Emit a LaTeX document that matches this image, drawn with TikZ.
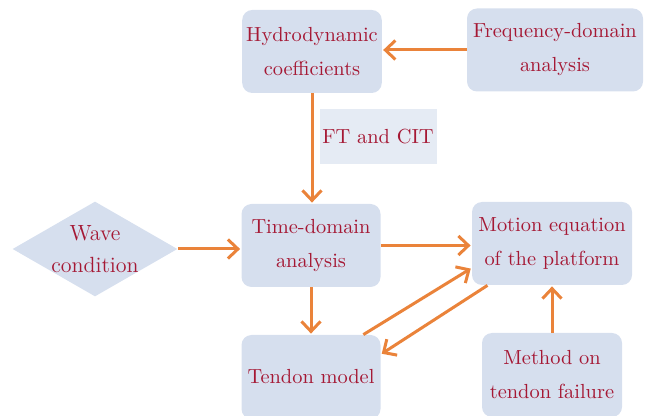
\documentclass[tikz,border=0pt]{standalone}
\usetikzlibrary{arrows.meta,shapes.geometric}

\definecolor{boxblue}{RGB}{214,223,238}
\definecolor{paleblue}{RGB}{229,235,244}
\definecolor{textred}{RGB}{165,24,52}
\definecolor{arroworange}{RGB}{234,131,58}

\begin{document}
\begin{tikzpicture}[x=0.5pt,y=-0.5pt,->,>={Straight Barb[length=5pt,width=9.5pt]},
  shorten >=0.5pt,
  main box/.style={rectangle,rounded corners=5pt,fill=boxblue,text=textred,
    align=center,inner sep=2pt,minimum width=69.5pt,minimum height=41.5pt,
    font=\fontsize{10.2}{17}\selectfont},
  wave node/.style={diamond,fill=boxblue,inner sep=0pt,
    minimum width=82.5pt,minimum height=47.5pt},
  note node/.style={rectangle,fill=paleblue,text=textred,inner sep=1pt,
    minimum width=58.5pt,minimum height=27.5pt,font=\fontsize{10.2}{17}\selectfont},
  flow/.style={color=arroworange,line width=1.5pt}]

 \useasboundingbox (0,0) rectangle (653,416);

 \node[main box] (hydro) at (312,51.5) {Hydrodynamic\\coefficients};
 \node[main box,minimum width=88pt] (freq) at (555,50) {Frequency-domain\\analysis};
 \node[main box] (time) at (311,245.5) {Time-domain\\analysis};
 \node[main box,minimum width=80pt] (motion) at (552,243.5) {Motion equation\\of the platform};
 \node[main box,minimum height=42pt] (tendon) at (311,377) {Tendon model};
 \node[main box,minimum width=70pt,minimum height=42pt] (method) at (552,375) {Method on\\tendon failure};
 \node[wave node,label={[text=textred,align=center,font=\fontsize{11}{16}\selectfont]center:Wave\\condition}] (wave) at (95,249) {};
 \node[note node] (cit) at (378,137) {FT and CIT};

 \path[flow]
    (freq.west)		edge (freq.west -| hydro.east)
    (hydro.south)	edge (hydro.south |- time.north)
    (wave.east)		edge (wave.east -| time.west)
    (time.east)		edge (time.east -| motion.west)
    (time.south)	edge (tendon.north)
    (tendon.39)		edge (motion.197)
    (motion.213)	edge (tendon.18)
    (method.north)	edge (motion.south);

\end{tikzpicture}
\end{document}
